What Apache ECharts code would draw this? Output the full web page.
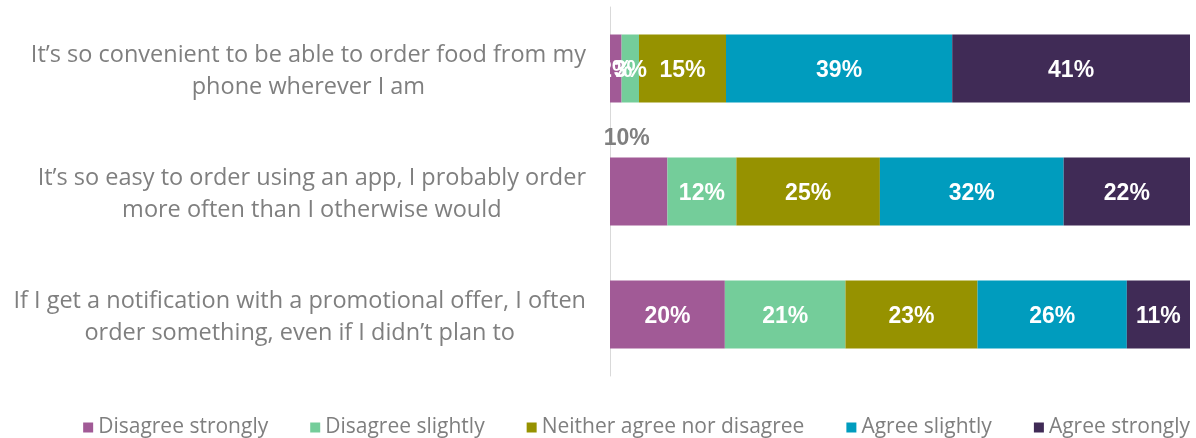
<!DOCTYPE html>
<html>
<head>
<meta charset="utf-8">
<script src="https://cdn.jsdelivr.net/npm/echarts@6/dist/echarts.min.js"></script>
<style>
  html, body { margin: 0; padding: 0; background: #ffffff; }
  #chart { width: 1196px; height: 438px; }
</style>
</head>
<body>
<div id="chart"></div>
<script>
// Survey statements (top to bottom)
const statements = [
  'It’s so convenient to be able to order food from my\nphone wherever I am',
  'It’s so easy to order using an app, I probably order\nmore often than I otherwise would',
  'If I get a notification with a promotional offer, I often\norder something, even if I didn’t plan to'
];

// Response shares (%) per statement
const disagreeStrongly = [2, 10, 20];
const disagreeSlightly = [3, 12, 21];
const neither          = [15, 25, 23];
const agreeSlightly    = [39, 32, 26];
const agreeStrongly    = [41, 22, 11];

const seriesNames = ['Disagree strongly', 'Disagree slightly', 'Neither agree nor disagree', 'Agree slightly', 'Agree strongly'];
const seriesColors = ['#A15A96', '#74CD9A', '#969200', '#009CBE', '#402B56'];
const seriesValues = [disagreeStrongly, disagreeSlightly, neither, agreeSlightly, agreeStrongly];

// Each row is scaled to fill 100% of the bar (rounded shares may not sum to exactly 100)
const rowTotals = statements.map((_, i) => seriesValues.reduce((s, arr) => s + arr[i], 0));

const series = seriesValues.map((vals, si) => ({
  name: seriesNames[si],
  type: 'bar',
  stack: 'share',
  barWidth: 68,
  itemStyle: { color: seriesColors[si] },
  label: {
    show: true,
    position: 'inside',
    offset: [0, 2],
    color: '#ffffff',
    fontFamily: 'Liberation Sans, Arial, sans-serif',
    fontWeight: 'bold',
    fontSize: 23,
    formatter: p => p.data.share + '%'
  },
  data: vals.map((v, i) => {
    const item = { value: v / rowTotals[i] * 100, share: v };
    // the small leading segment of the second row carries its label above the bar
    if (si === 0 && i === 1) {
      item.label = { position: 'top', distance: 7, offset: [-12, 0], color: '#7F7F7F' };
    }
    return item;
  })
}));

const chart = echarts.init(document.getElementById('chart'));
chart.setOption({
  animation: false,
  backgroundColor: '#ffffff',
  grid: { left: 610, right: 6, top: 7, bottom: 62, containLabel: false },
  xAxis: {
    type: 'value',
    min: 0,
    max: 100,
    show: false
  },
  yAxis: {
    type: 'category',
    inverse: true,
    data: statements,
    axisLine: { show: true, lineStyle: { color: '#D9D9D9', width: 1 } },
    axisTick: { show: false },
    axisLabel: {
      margin: 24,
      align: 'right',
      padding: [6, 0, 0, 0],
      formatter: v => v.split('\n').map(l => '{c|' + l + '}').join('\n'),
      rich: {
        c: {
          align: 'center',
          color: '#7F7F7F',
          fontFamily: 'Open Sans, sans-serif',
          fontSize: 23.5,
          lineHeight: 32
        }
      }
    }
  },
  legend: {
    top: 412,
    right: 1,
    itemWidth: 10,
    itemHeight: 10,
    itemGap: 42,
    icon: 'rect',
    textStyle: { color: '#7F7F7F', fontFamily: 'Open Sans, sans-serif', fontSize: 21 },
    data: seriesNames
  },
  series: series
});
</script>
</body>
</html>
